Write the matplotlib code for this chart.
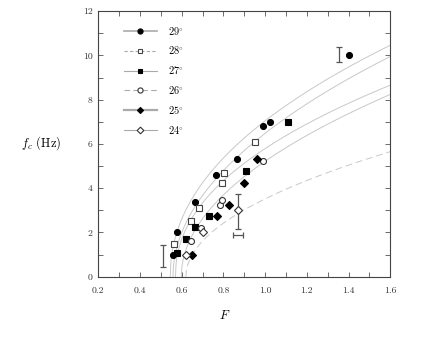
import numpy as np
import matplotlib
matplotlib.use("Agg")
import matplotlib.pyplot as plt
from matplotlib.lines import Line2D

plt.rcParams['font.family'] = ['cmr10', 'DejaVu Serif']
plt.rcParams['mathtext.fontset'] = 'cm'
plt.rcParams['axes.formatter.use_mathtext'] = True

# --- data ---
labels = [r'$29^{\circ}$', r'$28^{\circ}$', r'$27^{\circ}$', r'$26^{\circ}$', r'$25^{\circ}$', r'$24^{\circ}$']
F29 = [0.557, 0.579, 0.665, 0.764, 0.867, 0.990, 1.025, 1.40]
f29 = [1.0, 2.0, 3.4, 4.6, 5.3, 6.8, 7.0, 10.0]
F28 = [0.563, 0.643, 0.681, 0.793, 0.804, 0.951]
f28 = [1.5, 2.5, 3.1, 4.25, 4.7, 6.1]
F27 = [0.579, 0.620, 0.662, 0.732, 0.907, 1.111]
f27 = [1.08, 1.72, 2.25, 2.75, 4.8, 7.0]
F26 = [0.643, 0.694, 0.782, 0.795, 0.990]
f26 = [1.6, 2.22, 3.22, 3.48, 5.25]
F25 = [0.651, 0.769, 0.825, 0.900, 0.961]
f25 = [1.0, 2.75, 3.25, 4.25, 5.3]
F24 = [0.620, 0.703, 0.871]
f24 = [1.0, 2.0, 3.0]

# fitted curves fc = a * (F - F0)^p
curve_F0 = [0.545, 0.558, 0.570, 0.598, 0.620]
curve_a = [10.2, 9.75, 8.54, 8.23, 5.71]
curve_p = [0.47, 0.50, 0.46, 0.50, 0.50]
curve_ls = ['-', '-', '-', '-', (0, (7, 4))]

# error bars (x, y, yerr) and horizontal one
vbar_x = [0.512, 1.356, 0.871]
vbar_y = [0.95, 10.05, 2.93]
vbar_err = [0.5, 0.34, 0.79]
hbar_x = [0.870]
hbar_y = [1.87]
hbar_err = [0.024]

fig = plt.figure(figsize=(4.37, 3.49), dpi=100)
ax = fig.add_axes([0.225, 0.207, 0.668, 0.761])

curve_color = '#c8c8c8'
for F0, a, p, ls in zip(curve_F0, curve_a, curve_p, curve_ls):
    Fs = np.linspace(F0, 1.6, 400)
    ax.plot(Fs, a * (Fs - F0) ** p, color=curve_color, lw=0.7, ls=ls, zorder=1)

ebc = '#555555'
ax.errorbar(vbar_x, vbar_y, yerr=vbar_err, fmt='none', ecolor=ebc, elinewidth=0.9,
            capsize=2.5, capthick=0.9, zorder=2)
ax.errorbar(hbar_x, hbar_y, xerr=hbar_err, fmt='none', ecolor=ebc, elinewidth=0.9,
            capsize=2.5, capthick=0.9, zorder=2)

ms = 4.3
series = [
    (F29, f29, dict(marker='o', mfc='black', mec='black')),
    (F28, f28, dict(marker='s', mfc='white', mec='#444444', ms=ms - 0.3)),
    (F27, f27, dict(marker='s', mfc='black', mec='black', ms=ms - 0.6)),
    (F26, f26, dict(marker='o', mfc='white', mec='#333333')),
    (F25, f25, dict(marker='D', mfc='black', mec='black', ms=ms - 0.6)),
    (F24, f24, dict(marker='D', mfc='white', mec='#333333', ms=ms - 0.3)),
]
for xs, ys, kw in series:
    kw = dict(kw)
    kw.setdefault('ms', ms)
    ax.plot(xs, ys, ls='none', mew=0.8, zorder=3, **kw)

# legend
leg_ls = ['-', (0, (3, 2)), '-', (0, (5, 3)), '-', '-']
leg_lw = [1.2, 0.8, 0.8, 0.8, 1.6, 0.8]
handles = []
for (xs, ys, kw), ls, lw in zip(series, leg_ls, leg_lw):
    kw = dict(kw)
    kw['ms'] = kw.get('ms', ms) - 0.6
    line = Line2D([], [], color='#aaaaaa', ls=ls, lw=lw)
    mk = Line2D([], [], ls='none', mew=0.8, **kw)
    handles.append((line, mk))
ax.legend(handles, labels, loc='upper left', bbox_to_anchor=(0.055, 0.985), frameon=False,
          fontsize=7.5, handlelength=3.2, labelspacing=0.75, handletextpad=1.0)

ax.set_xlim(0.2, 1.6)
ax.set_ylim(0, 12)
ax.set_xticks(np.arange(0.2, 1.61, 0.2))
ax.set_xticks(np.arange(0.3, 1.6, 0.2), minor=True)
ax.set_yticks(np.arange(0, 12.1, 2))
ax.set_yticks(np.arange(1, 12, 2), minor=True)
ax.set_xticklabels(['0.2', '0.4', '0.6', '0.8', '1.0', '1.2', '1.4', '1.6'])
ax.set_yticklabels(['0', '2', '4', '6', '8', '10', '12'])
ax.tick_params(which='both', direction='in', top=True, right=True, length=3.5,
               width=0.5, labelsize=7, colors='#333333')
ax.tick_params(axis='x', pad=7)
ax.tick_params(axis='y', pad=4)
for s in ax.spines.values():
    s.set_linewidth(0.8)
    s.set_color('#444444')

fig.text(0.515, 0.095, '$F$', fontsize=9, ha='center', va='center')
fig.text(0.095, 0.59, r'$f_c$ (Hz)', fontsize=9, ha='center', va='center')

fig.savefig('out.png', dpi=100)
